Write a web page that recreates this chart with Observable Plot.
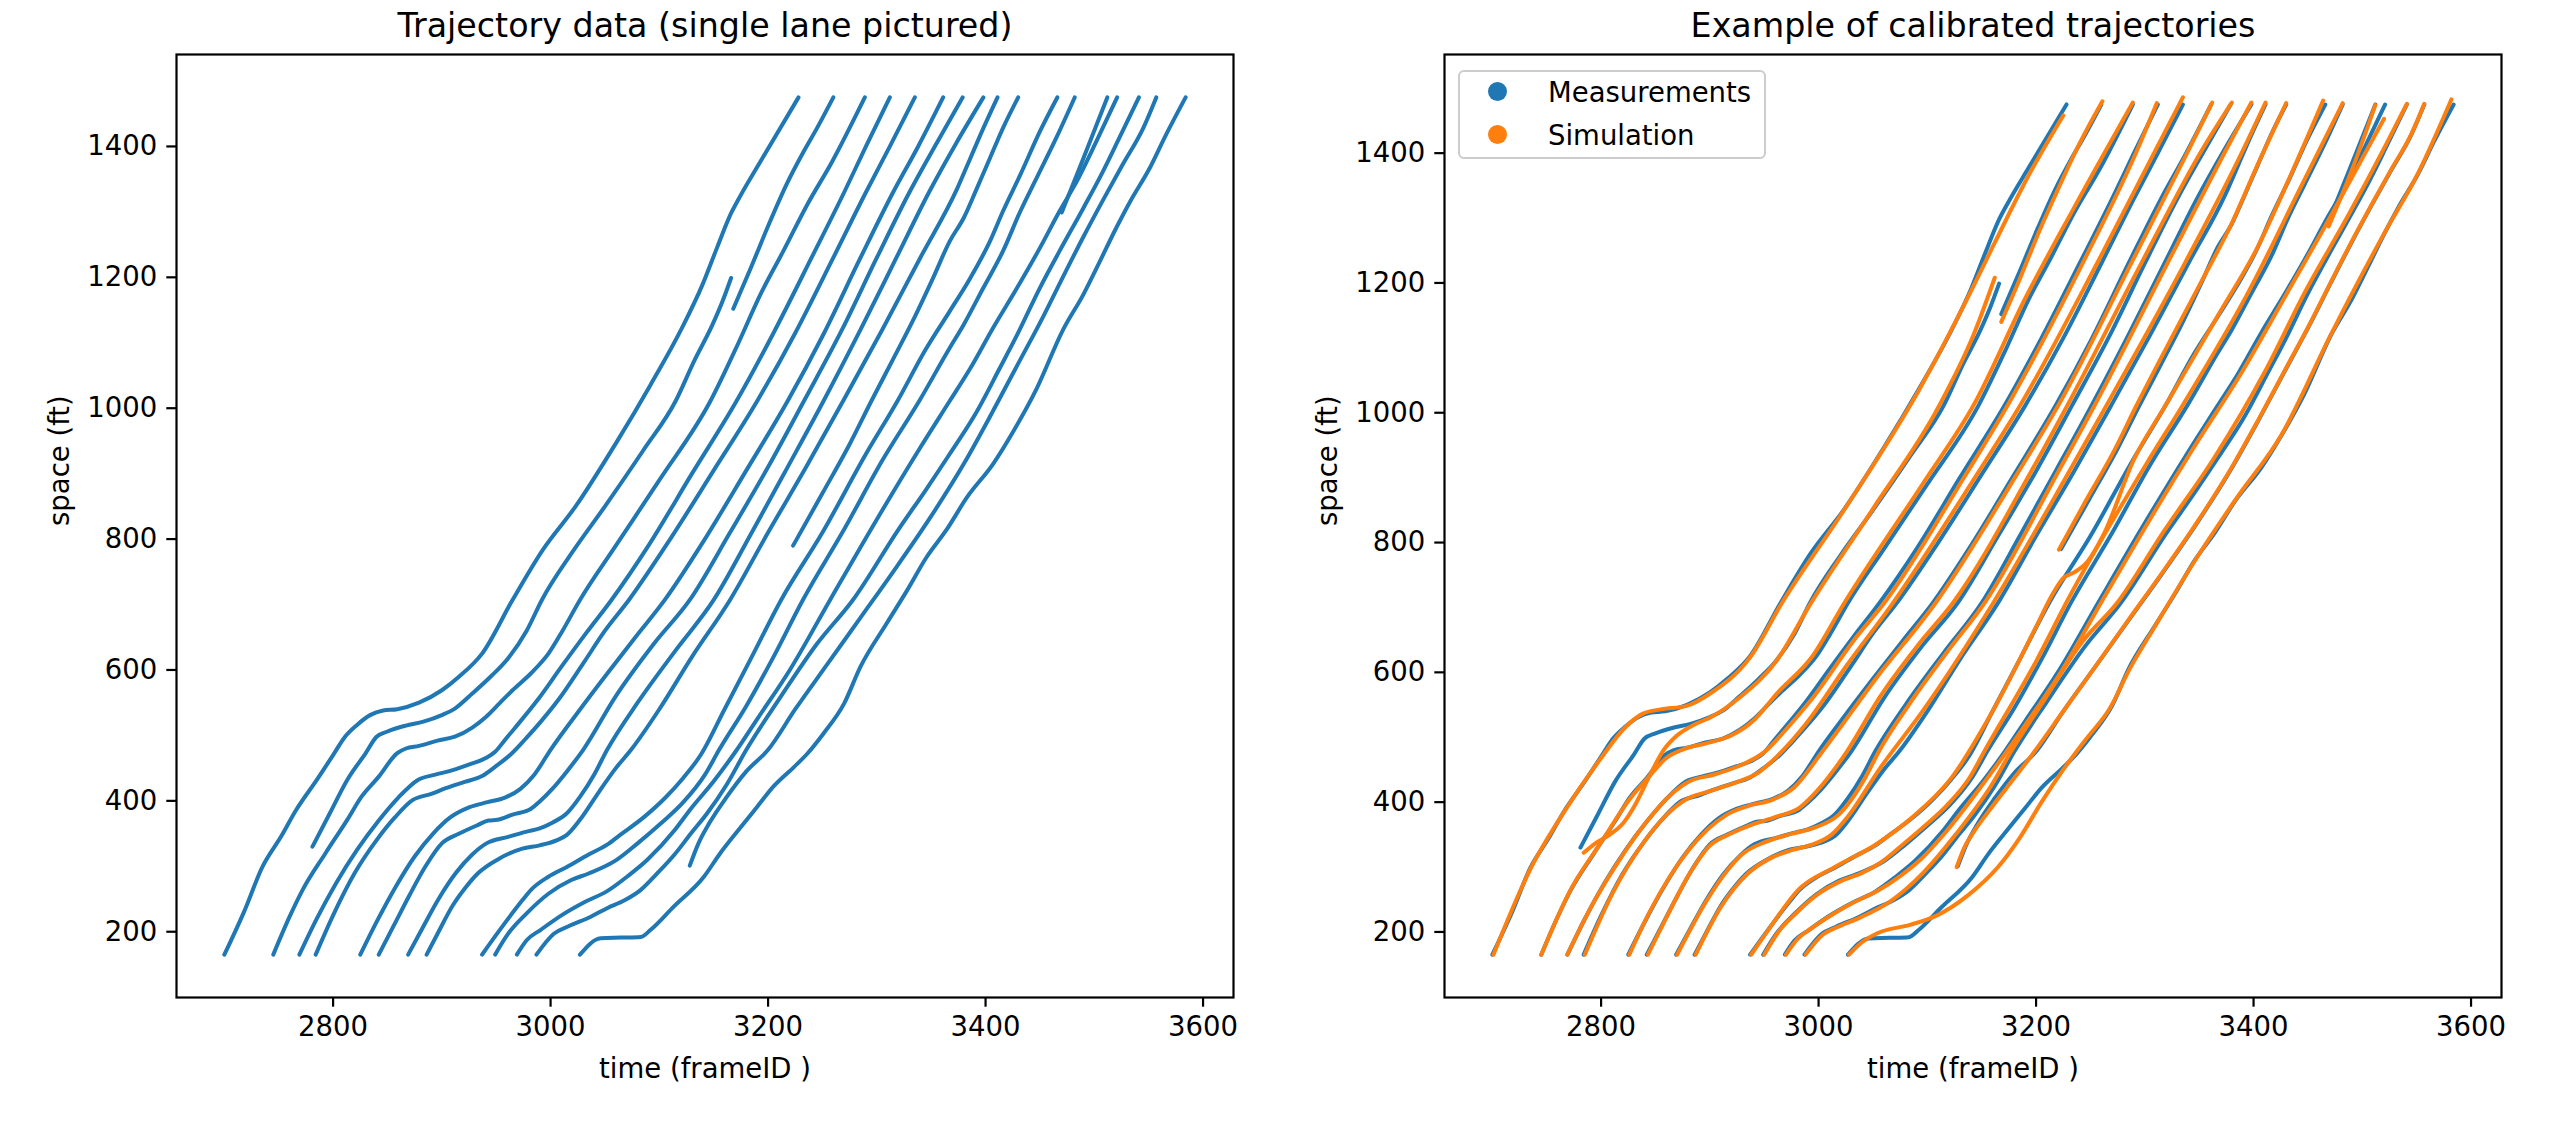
<!DOCTYPE html>
<html>
<head>
<meta charset="utf-8">
<script src="https://cdn.jsdelivr.net/npm/d3@7"></script>
<script src="https://cdn.jsdelivr.net/npm/@observablehq/plot@0.6"></script>
<style>
  html, body { margin: 0; padding: 0; background: #fff; }
  #fig { position: relative; width: 2575px; height: 1133px; background: #fff; overflow: hidden; font-family: "DejaVu Sans", sans-serif; }
  #fig > .panel { position: absolute; top: 0; }
  #legend { position: absolute; left: 1458px; top: 70px; width: 308px; height: 89px; border: 2.5px solid #cccccc; border-radius: 6px; background: rgba(255,255,255,0.8); box-sizing: border-box; }
  #legend .dot { position: absolute; left: 28px; width: 19px; height: 19px; border-radius: 50%; }
  #legend .lbl { position: absolute; left: 88px; font-size: 27.5px; white-space: nowrap; color: #000; line-height: 30px; }
</style>
</head>
<body>
<div id="fig"></div>
<script>
// ---------------- data ----------------
const xTicks = [2800, 3000, 3200, 3400, 3600];
const yTicks = [200, 400, 600, 800, 1000, 1200, 1400];
const titles = ["Trajectory data (single lane pictured)", "Example of calibrated trajectories"];
const xLabel = "time (frameID )";
const yLabel = "space (ft)";
const legendLabels = ["Measurements", "Simulation"];

// measured trajectories: [frameID, space (ft)]
const m01 = [[2700,165],[2718,230],[2735,299],[2752,345],[2766,386],[2785,432],[2800,470],[2811,498],[2822,516],[2834,531],[2846,538],[2859,540],[2879,550],[2900,569],[2916,590],[2937,625],[2965,707],[2993,784],[3023,850],[3061,949],[3092,1036],[3120,1120],[3140,1190],[3153,1245],[3166,1298],[3175,1326],[3193,1377],[3228,1475]];
const m02 = [[2781,330],[2797,381],[2813,432],[2830,473],[2840,498],[2850,506],[2867,515],[2883,521],[2900,531],[2912,541],[2928,564],[2945,590],[2961,618],[2978,660],[2992,707],[3020,780],[3050,850],[3085,935],[3115,1011],[3132,1072],[3149,1128],[3158,1163],[3166,1199]];
const m03 = [[3168,1152],[3184,1214],[3202,1286],[3217,1342],[3233,1393],[3245,1428],[3260,1475]];
const m04 = [[2745,165],[2760,223],[2772,264],[2793,320],[2813,371],[2826,406],[2842,437],[2859,473],[2867,480],[2879,484],[2896,492],[2912,498],[2928,512],[2941,529],[2953,549],[2965,569],[2982,595],[2998,625],[3011,660],[3027,707],[3060,790],[3100,890],[3147,1011],[3172,1097],[3193,1174],[3214,1240],[3236,1311],[3259,1377],[3289,1475]];
const m05 = [[2769,165],[2785,220],[2803,275],[2822,325],[2842,370],[2860,405],[2878,432],[2894,440],[2906,445],[2924,455],[2940,465],[2949,475],[2958,493],[2967,511],[2988,554],[3010,605],[3033,657],[3056,707],[3090,790],[3130,900],[3171,1011],[3205,1115],[3240,1230],[3270,1330],[3290,1400],[3312,1475]];
const m06 = [[2784,165],[2800,225],[2820,290],[2840,340],[2857,375],[2873,401],[2891,411],[2903,419],[2921,429],[2937,438],[2949,452],[2964,472],[2976,493],[2992,523],[3007,554],[3030,610],[3050,660],[3072,707],[3110,800],[3150,905],[3190,1011],[3225,1115],[3260,1230],[3290,1330],[3312,1400],[3335,1475]];
const m07 = [[2825,165],[2840,215],[2858,270],[2875,315],[2892,350],[2908,375],[2925,390],[2942,398],[2958,405],[2972,418],[2985,440],[3000,478],[3025,535],[3050,590],[3078,650],[3105,707],[3140,795],[3180,905],[3218,1011],[3250,1110],[3285,1230],[3315,1330],[3338,1400],[3361,1475]];
const m08 = [[2842,165],[2856,210],[2870,255],[2885,300],[2900,335],[2916,350],[2933,363],[2943,370],[2951,371],[2965,379],[2982,388],[2990,399],[3002,419],[3015,445],[3030,478],[3060,560],[3095,640],[3128,707],[3165,810],[3200,910],[3233,1011],[3268,1120],[3300,1230],[3330,1330],[3355,1405],[3379,1475]];
const m09 = [[2869,165],[2882,205],[2897,250],[2913,290],[2928,318],[2941,335],[2961,345],[2978,353],[2990,358],[3002,367],[3015,381],[3027,406],[3040,440],[3052,478],[3080,550],[3115,630],[3150,707],[3185,810],[3218,910],[3251,1011],[3285,1120],[3318,1230],[3348,1330],[3373,1405],[3398,1475]];
const m10 = [[2886,165],[2897,200],[2910,240],[2922,268],[2933,289],[2953,312],[2974,327],[2990,332],[3006,340],[3015,348],[3027,371],[3045,415],[3060,450],[3074,478],[3100,540],[3130,620],[3165,707],[3200,810],[3235,910],[3269,1011],[3305,1120],[3340,1230],[3374,1336],[3386,1382],[3398,1428],[3411,1475]];
const m11 = [[3223,790],[3250,870],[3275,945],[3295,1011],[3315,1075],[3335,1140],[3352,1200],[3367,1255],[3380,1291],[3392,1336],[3404,1382],[3416,1428],[3430,1475]];
const m12 = [[2937,165],[2953,202],[2974,248],[2982,264],[2998,284],[3015,299],[3035,318],[3052,333],[3064,348],[3085,374],[3105,404],[3122,435],[3138,470],[3160,540],[3185,620],[3212,707],[3250,810],[3290,930],[3319,1011],[3345,1090],[3367,1148],[3386,1199],[3404,1255],[3416,1301],[3432,1357],[3450,1423],[3466,1475]];
const m13 = [[2949,165],[2961,197],[2978,228],[2998,258],[3019,279],[3035,289],[3060,309],[3080,335],[3101,365],[3121,396],[3142,440],[3155,478],[3180,545],[3205,620],[3232,707],[3270,815],[3305,920],[3339,1011],[3367,1092],[3380,1128],[3398,1184],[3416,1240],[3432,1301],[3447,1352],[3465,1413],[3482,1475]];
const m14 = [[3470,1299],[3490,1382],[3512,1475]];
const m15 = [[2969,165],[2978,187],[2991,203],[3010,225],[3031,245],[3052,262],[3071,285],[3089,310],[3114,355],[3129,388],[3150,430],[3170,475],[3190,525],[3220,600],[3257,707],[3300,830],[3340,940],[3367,1011],[3386,1061],[3407,1123],[3429,1184],[3450,1245],[3468,1301],[3484,1347],[3502,1408],[3521,1475]];
const m16 = [[2987,165],[3003,197],[3016,208],[3037,223],[3052,236],[3068,248],[3083,264],[3098,289],[3114,318],[3129,350],[3144,381],[3162,425],[3180,478],[3210,555],[3245,640],[3278,707],[3320,815],[3345,875],[3367,930],[3392,995],[3413,1061],[3429,1112],[3450,1184],[3468,1240],[3490,1306],[3508,1362],[3523,1413],[3541,1475]];
const m17 = [[3128,301],[3136,335],[3146,366],[3162,406],[3180,445],[3200,478],[3225,540],[3255,610],[3285,680],[3315,750],[3348,830],[3380,915],[3405,990],[3429,1065],[3453,1140],[3471,1200],[3490,1262],[3508,1318],[3526,1372],[3545,1428],[3557,1475]];
const m18 = [[3027,165],[3046,190],[3065,191],[3083,192],[3092,203],[3113,238],[3141,284],[3156,320],[3175,360],[3190,391],[3205,422],[3224,452],[3236,472],[3251,503],[3270,549],[3285,605],[3309,671],[3328,722],[3346,773],[3364,814],[3383,864],[3407,915],[3426,966],[3447,1030],[3471,1119],[3490,1174],[3505,1224],[3520,1275],[3533,1316],[3551,1367],[3566,1418],[3584,1475]];

// simulated (calibrated) trajectories
const s01 = [[2701,165],[2735,297],[2766,385],[2800,468],[2822,515],[2838,536],[2855,543],[2878,548],[2900,567],[2937,623],[2966,706],[3023,849],[3092,1034],[3138,1180],[3162,1262],[3192,1362],[3225,1458]];
const s02 = [[2784,322],[2796,338],[2808,350],[2820,367],[2832,398],[2845,442],[2857,479],[2870,503],[2885,519],[2900,530],[2928,562],[2961,617],[2992,704],[3050,852],[3110,1008],[3143,1122],[3162,1208]];
const s03 = [[3168,1140],[3185,1206],[3203,1280],[3219,1340],[3240,1415],[3261,1480]];
const s04 = [[2745,165],[2772,265],[2800,338],[2826,404],[2845,441],[2860,468],[2875,481],[2900,492],[2920,503],[2941,527],[2962,568],[2994,624],[3023,705],[3096,891],[3143,1013],[3190,1176],[3234,1313],[3289,1478]];
const s05 = [[2769,165],[2790,236],[2815,306],[2842,370],[2862,408],[2880,431],[2905,443],[2930,458],[2950,477],[2969,510],[2991,553],[3036,657],[3060,706],[3134,901],[3174,1012],[3243,1231],[3292,1401],[3311,1477]];
const s06 = [[2785,165],[2810,258],[2840,340],[2860,380],[2878,404],[2900,417],[2925,431],[2945,446],[2962,471],[2989,522],[3026,611],[3068,706],[3146,906],[3186,1013],[3257,1233],[3310,1405],[3335,1486]];
const s07 = [[2826,165],[2845,232],[2862,282],[2880,325],[2898,358],[2915,380],[2935,394],[2958,404],[2977,422],[3003,477],[3053,591],[3108,708],[3183,907],[3221,1013],[3288,1232],[3340,1404],[3362,1478]];
const s08 = [[2843,165],[2860,222],[2880,286],[2900,333],[2920,352],[2940,366],[2960,377],[2983,392],[2999,418],[3026,478],[3056,561],[3091,641],[3124,708],[3196,911],[3229,1012],[3297,1231],[3353,1406],[3380,1478]];
const s09 = [[2870,165],[2897,248],[2913,288],[2930,320],[2950,338],[2975,351],[2997,361],[3018,380],[3043,438],[3055,477],[3083,550],[3118,631],[3153,708],[3221,911],[3254,1012],[3321,1231],[3375,1406],[3398,1478]];
const s10 = [[2887,165],[2910,238],[2935,290],[2955,313],[2975,326],[2993,334],[3012,350],[3027,378],[3056,451],[3096,541],[3161,708],[3231,911],[3265,1012],[3337,1231],[3384,1383],[3411,1478]];
const s11 = [[3221,789],[3245,862],[3272,942],[3292,1010],[3312,1075],[3333,1142],[3352,1202],[3380,1292],[3404,1383],[3430,1477]];
const s12 = [[2938,165],[2955,206],[2982,266],[3015,300],[3052,334],[3085,375],[3122,437],[3160,540],[3200,670],[3215,720],[3225,745],[3235,754],[3247,770],[3262,812],[3290,928],[3319,1011],[3367,1149],[3404,1256],[3432,1358],[3464,1481]];
const s13 = [[2950,165],[2963,200],[2980,230],[3000,259],[3020,278],[3040,291],[3058,308],[3077,334],[3098,364],[3118,395],[3139,438],[3152,477],[3201,620],[3228,708],[3301,920],[3335,1012],[3395,1185],[3445,1353],[3482,1477]];
const s14 = [[3469,1287],[3490,1372],[3512,1474]];
const s15 = [[2970,165],[2980,188],[2993,205],[3012,226],[3033,246],[3054,263],[3075,286],[3094,312],[3118,356],[3153,432],[3193,526],[3223,601],[3260,708],[3303,831],[3343,941],[3389,1062],[3431,1185],[3470,1300],[3501,1395],[3520,1453]];
const s16 = [[2988,165],[3004,196],[3018,208],[3038,222],[3066,247],[3095,289],[3126,350],[3159,426],[3177,478],[3207,556],[3242,646],[3275,708],[3317,816],[3364,931],[3410,1062],[3447,1185],[3488,1307],[3522,1414],[3541,1476]];
const s17 = [[3127,300],[3134,330],[3143,355],[3156,385],[3172,420],[3195,470],[3225,540],[3255,610],[3285,681],[3315,751],[3348,831],[3380,916],[3405,991],[3429,1066],[3453,1141],[3471,1201],[3490,1263],[3508,1319],[3526,1373],[3545,1429],[3557,1476]];
const s18 = [[3028,165],[3039,183],[3054,198],[3084,211],[3107,224],[3137,256],[3165,300],[3185,345],[3205,400],[3225,450],[3245,495],[3268,545],[3286,605],[3309,670],[3346,772],[3383,865],[3426,967],[3471,1120],[3520,1276],[3551,1368],[3582,1483]];

const measured = [m01,m02,m03,m04,m05,m06,m07,m08,m09,m10,m11,m12,m13,m14,m15,m16,m17,m18];
const simulated = [s01,s02,s03,s04,s05,s06,s07,s08,s09,s10,s11,s12,s13,s14,s15,s16,s17,s18];

const blue = "#1f77b4", orange = "#ff7f0e";

// ---------------- drawing ----------------
function rows(list) {
  return list.flatMap((tr, i) => tr.map(([t, s]) => ({id: i, t, s})));
}
const measuredRows = rows(measured);
const simulatedRows = rows(simulated);

function panel({title, yDomain, layers, width, marginLeft, marginRight}) {
  return Plot.plot({
    width, height: 1133,
    marginLeft, marginRight, marginTop: 54, marginBottom: 136,
    x: {domain: [2656, 3628]},
    y: {domain: yDomain},
    style: {fontFamily: "DejaVu Sans", fontSize: "27.5px", color: "black", background: "white", overflow: "visible"},
    marks: [
      ...layers.map(({data, color}) => Plot.line(data, {x: "t", y: "s", z: "id", stroke: color, strokeWidth: 4, curve: "monotone-x"})),
      Plot.frame({stroke: "black", strokeWidth: 2.2}),
      Plot.axisX({ticks: xTicks, tickSize: 9.7, tickPadding: 9.6, tickFormat: d => String(d), label: null, strokeWidth: 2.2, fontSize: 27.5}),
      Plot.axisY({ticks: yTicks, tickSize: 9.7, tickPadding: 9.6, tickFormat: d => String(d), label: null, strokeWidth: 2.2, fontSize: 27.5}),
      Plot.text([title], {text: d => d, frameAnchor: "top", dy: -28, fontSize: 33.3, lineAnchor: "middle", fill: "black"}),
      Plot.text([xLabel], {text: d => d, frameAnchor: "bottom", dy: 72, fontSize: 27.5, lineAnchor: "middle", fill: "black"}),
      Plot.text([yLabel], {text: d => d, frameAnchor: "left", dx: -116, rotate: -90, fontSize: 27.5, lineAnchor: "middle", fill: "black"})
    ]
  });
}

const fig = document.getElementById("fig");

const left = panel({
  title: titles[0], yDomain: [99.5, 1540.5],
  layers: [{data: measuredRows, color: blue}],
  width: 1287, marginLeft: 176, marginRight: 1287 - 1233
});
left.classList.add("panel");
left.style.left = "0px";
fig.appendChild(left);

const right = panel({
  title: titles[1], yDomain: [99, 1552],
  layers: [{data: measuredRows, color: blue}, {data: simulatedRows, color: orange}],
  width: 1288, marginLeft: 1444 - 1287, marginRight: 1288 - (2501 - 1287)
});
right.classList.add("panel");
right.style.left = "1287px";
fig.appendChild(right);

// legend
const legend = document.createElement("div");
legend.id = "legend";
[[legendLabels[0], blue, 22], [legendLabels[1], orange, 65]].forEach(([label, color, cy]) => {
  const dot = document.createElement("span");
  dot.className = "dot";
  dot.style.background = color;
  dot.style.top = (cy - 9.5 - 2.5) + "px";
  legend.appendChild(dot);
  const txt = document.createElement("span");
  txt.className = "lbl";
  txt.textContent = label;
  txt.style.top = (cy - 15 - 2.5) + "px";
  legend.appendChild(txt);
});
fig.appendChild(legend);
</script>
</body>
</html>
